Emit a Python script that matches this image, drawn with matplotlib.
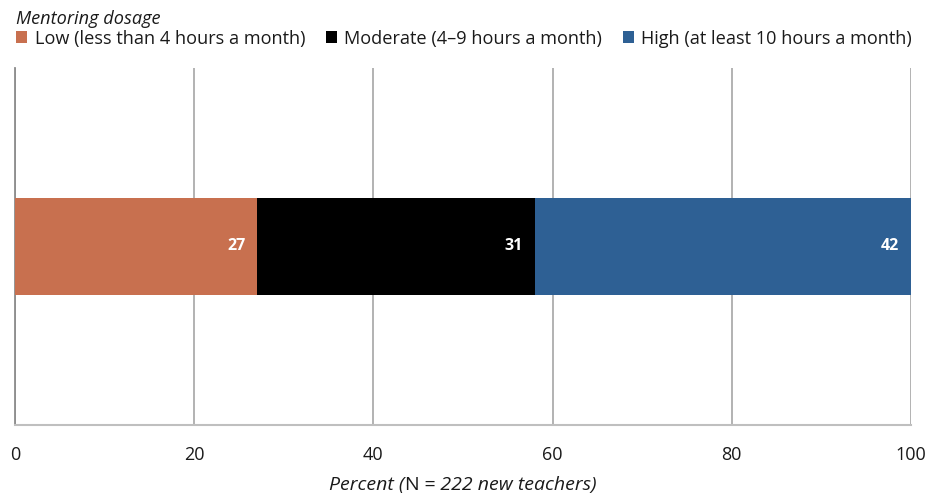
import matplotlib
matplotlib.use("Agg")
import matplotlib.pyplot as plt
from matplotlib.patches import Patch

plt.rcParams['font.family'] = ['Open Sans', 'DejaVu Sans']

categories = ["Low (less than 4 hours a month)",
              "Moderate (4\u20139 hours a month)",
              "High (at least 10 hours a month)"]
values = [27, 31, 42]
colors = ["#C8704F", "#000000", "#2E6094"]
ticks = [0, 20, 40, 60, 80, 100]

fig = plt.figure(figsize=(9.28, 4.95), dpi=100)
ax = fig.add_axes([15/928, 1 - 425/495, (911 - 15)/928, (425 - 68)/495])

left = 0
for cat, val, col in zip(categories, values, colors):
    ax.barh(0, val, left=left, height=0.272, color=col, label=cat, zorder=3)
    ax.text(left + val - 1.3, 0, str(val), ha="right", va="center",
            color="white", fontsize=11.5, fontweight="bold", zorder=4)
    left += val

ax.set_xlim(0, 100)
ax.set_ylim(-0.5, 0.5)
ax.set_xticks(ticks)
ax.set_xticklabels([str(t) for t in ticks], fontsize=13, color="#1a1a1a")
ax.set_yticks([])
ax.tick_params(axis="x", length=0, pad=15)
ax.grid(axis="x", color="#A6A6A6", linewidth=1.2, zorder=0)
for s in ["top", "right"]:
    ax.spines[s].set_visible(False)
ax.spines["left"].set_color("#8C8C8C")
ax.spines["left"].set_linewidth(1.3)
ax.spines["bottom"].set_color("#BFBFBF")
ax.spines["bottom"].set_linewidth(1.5)

# legend
handles = [Patch(facecolor=c, edgecolor="none") for c in colors]
leg = fig.legend(handles, categories, loc="upper left", bbox_to_anchor=(0.004, 1.006),
                 ncol=3, frameon=False, fontsize=13.1, title="Mentoring dosage",
                 title_fontproperties={"size": 13.1, "style": "italic"},
                 alignment="left", handlelength=0.6, handleheight=0.6,
                 handletextpad=0.4, columnspacing=1.15, borderpad=0.2,
                 labelspacing=0.1)
for t in leg.get_texts():
    t.set_color("#1a1a1a")
leg.get_title().set_color("#1a1a1a")

# x-axis label: italic with upright N
fig.canvas.draw()
r = fig.canvas.get_renderer()
parts = [("Percent (", "italic"), ("N", "normal"), (" = 222 new teachers)", "italic")]
objs = []
for txt, st in parts:
    objs.append(fig.text(0, 1 - 485/495, txt, fontsize=14,
                         style=st, color="#1a1a1a", va="center", ha="left"))
widths = [o.get_window_extent(r).width for o in objs]
total = sum(widths)
x0 = 463 - total / 2
for o, w in zip(objs, widths):
    o.set_x(x0 / 928)
    x0 += w

fig.savefig("out.png", dpi=100)
